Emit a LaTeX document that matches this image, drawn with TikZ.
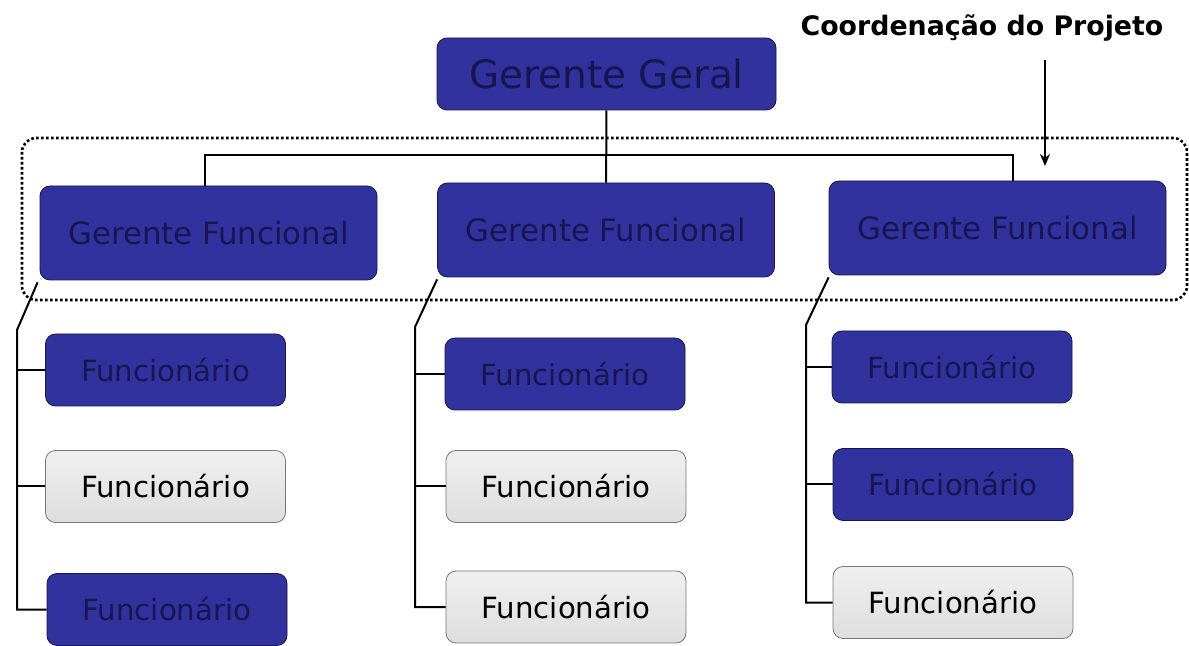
\documentclass[tikz,border=0pt]{standalone}
\usepackage{fontspec}
\setmainfont{DejaVu Sans}
\usetikzlibrary{arrows.meta,calc}
\definecolor{azul}{RGB}{50,50,158}
\definecolor{azulesc}{RGB}{22,22,80}
\definecolor{bordacinza}{RGB}{120,120,120}
\tikzset{
    caixa/.style={rounded corners=5pt, draw=azulesc, fill=azul, text=azulesc, inner sep=0pt},
    cinzenta/.style={rounded corners=5pt, draw=bordacinza, top color=gray!12, bottom color=gray!26, text=black, inner sep=0pt},
    geral/.style={caixa, minimum width=169.5pt, minimum height=36pt, font=\fontsize{19.5}{22}\selectfont},
    funcional/.style={caixa, minimum width=168.5pt, minimum height=47pt, font=\fontsize{15.4}{18}\selectfont},
    func/.style={minimum width=120pt, minimum height=36pt, font=\fontsize{14.6}{17}\selectfont},
    liga/.style={line width=1pt, black},
  }
\begin{document}
\begin{tikzpicture}[x=0.5pt,y=-0.5pt]
                                    \useasboundingbox (0,0) rectangle (1189,646);
                                    %moldura da coordenacao
                                    \draw [line width=1.3pt, dash pattern=on 1.3pt off 1.2pt, rounded corners=7pt] (22,138) rectangle (1187,300);
                                    \node[geral](G) at (606.5,74) {Gerente Geral};
                                    \node[funcional](GF1) at (208.5,233) {Gerente Funcional};
                                    \node[funcional](GF2) at (606,230) {Gerente Funcional};
                                    \node[funcional](GF3) at (997.5,228) {Gerente Funcional};
                                    %funcionarios
                                    \node[caixa,func](F11) at (165.5,370) {Funcionário};
                                    \node[cinzenta,func](F12) at (165.5,486.5) {Funcionário};
                                    \node[caixa,func](F13) at (167,609.5) {Funcionário};
                                    \node[caixa,func](F21) at (565,374) {Funcionário};
                                    \node[cinzenta,func](F22) at (566,486.5) {Funcionário};
                                    \node[cinzenta,func](F23) at (566,607) {Funcionário};
                                    \node[caixa,func](F31) at (952,367) {Funcionário};
                                    \node[caixa,func](F32) at (953,484.5) {Funcionário};
                                    \node[cinzenta,func](F33) at (953,602.5) {Funcionário};
                                    \coordinate (barra) at (606.5,155);
                                    \coordinate (k1) at (17,330);
                                    \coordinate (k2) at (415,327);
                                    \coordinate (k3) at (806,325);
                                    \draw [liga] (G) -- (GF2);
                                    \draw [liga] ([xshift=-1.75pt]GF1.north) |- (barra) -| ([xshift=7.75pt]GF3.north);
                                    \draw [liga] ([shift={(-1pt,-1pt)}]GF1.south west) -- (k1) |- (F13.west);
                                    \draw [liga] (k1 |- F11.west) -- (F11.west) (k1 |- F12.west) -- (F12.west);
                                    \draw [liga] ([shift={(0pt,-1pt)}]GF2.south west) -- (k2) |- (F23.west);
                                    \draw [liga] (k2 |- F21.west) -- (F21.west) (k2 |- F22.west) -- (F22.west);
                                    \draw [liga] ([shift={(0pt,-1pt)}]GF3.south west) -- (k3) |- (F33.west);
                                    \draw [liga] (k3 |- F31.west) -- (F31.west) (k3 |- F32.west) -- (F32.west);
                                    %titulo e seta
                                    \node[font=\fontsize{13.4}{15}\selectfont\bfseries](T) at (982,28) {Coordenação do Projeto};
                                    \coordinate (inicio) at (1045,60);
                                    \coordinate (alvo) at (1045,166);
                                    \draw [line width=1.2pt, -{Stealth[length=6pt,width=5pt]}] (inicio) -- (alvo);
				  \end{tikzpicture}
\end{document}
